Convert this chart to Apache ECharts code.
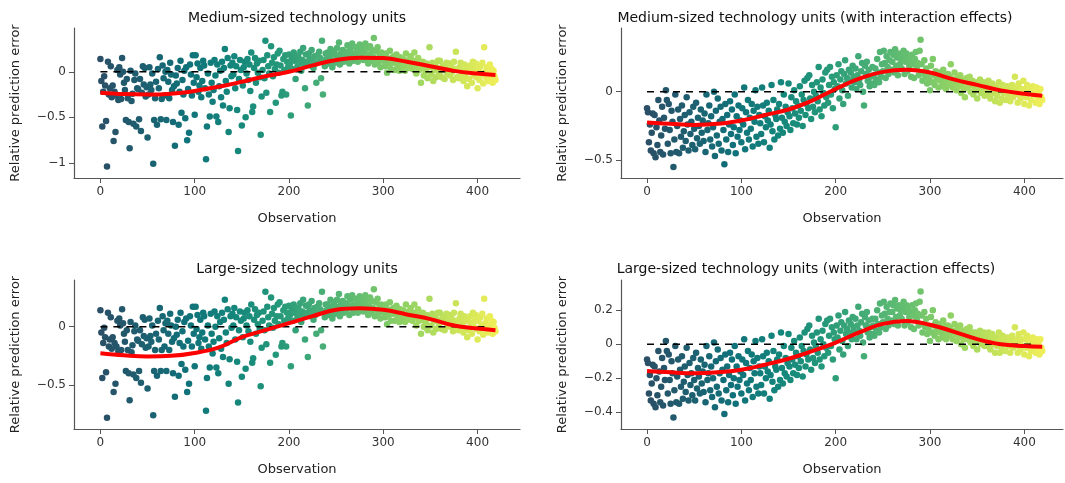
<!DOCTYPE html>
<html><head><meta charset="utf-8">
<script src="https://cdn.jsdelivr.net/npm/echarts@6/dist/echarts.min.js"></script>
<style>html,body{margin:0;padding:0;background:#fff}#c{width:1065px;height:483px}</style>
</head><body><div id="c"></div>
<script>
const titles = ["Medium-sized technology units","Medium-sized technology units (with interaction effects)","Large-sized technology units","Large-sized technology units (with interaction effects)"];
const xTicks = [0,100,200,300,400];
const yTicks1 = [0,-0.5,-1];
const yTicks2 = [0,-0.5];
const yTicks3 = [0,-0.5];
const yTicks4 = [0.2,0,-0.2,-0.4];
const zeroSpan = [0,410];
const trendObs = [0,25,50,75,100,125,150,175,200,225,250,275,300,325,350,375,400,419];
const trend1 = [-0.23,-0.245,-0.25,-0.24,-0.21,-0.165,-0.11,-0.05,0.0,0.07,0.13,0.155,0.15,0.11,0.06,0.01,-0.02,-0.035];
const trend2 = [-0.225,-0.235,-0.243,-0.235,-0.21,-0.17,-0.13,-0.065,0.02,0.095,0.145,0.16,0.14,0.09,0.05,0.01,-0.015,-0.03];
const trend3 = [-0.228,-0.245,-0.255,-0.25,-0.225,-0.18,-0.09,-0.03,0.03,0.09,0.145,0.158,0.145,0.105,0.065,0.01,-0.015,-0.03];
const trend4 = [-0.157,-0.165,-0.17,-0.165,-0.15,-0.12,-0.085,-0.04,0.01,0.07,0.12,0.137,0.115,0.075,0.03,0.0,-0.01,-0.014];

const mediumErr = [
0.14,-0.10,-0.60,-0.22,-0.05,-0.15,-0.54,-1.04,0.11,-0.25,
-0.18,0.06,-0.28,-0.15,-0.76,-0.22,-0.66,-0.26,0.02,-0.31,
0.05,-0.03,-0.30,0.15,0.00,-0.12,-0.20,-0.53,-0.08,-0.29,
-0.55,-0.84,0.01,-0.32,-0.24,-0.57,-0.09,-0.02,-0.60,-0.18,
-0.19,-0.52,-0.08,-0.65,-0.23,0.06,-0.14,0.04,-0.27,-0.17,
-0.72,-0.25,0.05,-0.14,-0.20,-0.02,-1.01,-0.53,-0.29,-0.11,
-0.58,0.03,-0.18,0.16,-0.52,-0.30,0.07,-0.07,-0.26,0.00,
-0.53,0.02,-0.11,-0.29,0.10,-0.03,-0.20,-0.55,-0.16,-0.81,
-0.04,-0.13,0.04,-0.58,-0.22,0.12,-0.45,-0.09,-0.25,0.01,
-0.51,0.05,-0.75,-0.19,-0.67,0.08,-0.03,-0.26,0.18,-0.12,
-0.47,0.18,-0.06,0.09,-0.22,-0.15,0.04,-0.28,-0.10,0.12,
0.07,-0.18,-0.96,-0.60,-0.02,-0.25,-0.49,0.10,-0.12,-0.33,
-0.20,0.13,-0.04,-0.49,0.08,-0.55,-0.16,0.01,-0.28,0.11,
-0.37,0.04,0.25,-0.10,-0.22,0.15,-0.66,-0.40,0.07,-0.05,
0.10,-0.03,0.17,-0.18,0.06,-0.42,-0.87,-0.08,0.13,0.02,
-0.59,-0.15,0.05,0.11,-0.50,-0.02,0.14,-0.09,0.08,-0.21,
0.21,-0.44,-0.38,0.04,0.15,-0.12,0.09,-0.01,0.12,-0.06,
-0.69,-0.27,0.02,0.13,-0.07,0.34,-0.23,0.18,0.06,-0.02,
-0.44,0.28,0.10,-0.05,0.16,0.03,-0.34,0.08,0.20,-0.01,
0.23,0.07,-0.26,-0.22,0.14,0.02,0.18,-0.25,0.11,0.05,
0.19,0.09,-0.48,0.15,0.03,0.21,0.12,-0.08,0.17,0.06,
0.16,0.10,0.22,0.01,0.13,0.26,0.08,-0.18,0.19,0.11,
-0.37,0.20,0.14,0.07,0.24,0.12,0.04,0.17,0.09,-0.12,
0.18,0.11,0.22,0.15,-0.07,0.34,-0.25,0.13,0.06,0.20,
0.14,0.21,0.09,0.17,0.25,0.12,0.05,0.19,0.23,0.10,
0.18,0.26,0.13,0.32,0.08,0.20,0.15,0.24,0.11,0.17,
0.22,0.14,0.29,0.19,0.09,0.25,0.16,0.31,0.12,0.20,
0.17,0.27,0.21,0.11,0.24,0.30,0.15,0.19,0.26,0.13,
0.22,0.31,0.15,0.26,0.09,0.19,0.28,0.12,0.24,0.17,
0.37,0.08,0.23,0.14,0.27,0.11,0.19,0.05,0.21,0.16,
0.12,0.18,0.06,0.20,-0.01,0.14,0.09,0.23,0.03,0.15,
0.10,0.17,0.02,0.13,0.19,0.07,0.11,0.01,0.16,0.08,
0.05,0.14,0.09,0.01,0.20,0.11,0.04,0.13,0.07,0.17,
0.09,0.03,0.12,0.21,0.06,-0.02,0.10,0.15,0.02,0.08,
-0.12,0.04,0.11,-0.04,0.07,0.00,0.09,-0.07,0.05,0.27,
0.06,-0.03,0.10,-0.10,0.02,0.08,-0.06,0.04,0.12,-0.01,
0.12,0.01,-0.06,0.07,0.03,-0.08,0.05,0.10,-0.02,0.04,
0.09,-0.04,0.06,0.00,-0.09,0.11,0.03,0.22,-0.06,0.02,
-0.07,0.05,0.10,-0.03,0.01,-0.10,0.08,-0.05,0.02,-0.16,
0.04,-0.08,0.07,0.00,-0.12,0.11,-0.04,0.03,0.09,-0.06,
-0.18,0.02,-0.09,0.06,-0.03,0.10,-0.13,0.27,0.00,-0.06,
0.05,-0.10,-0.02,0.08,-0.07,0.03,-0.12,0.01,-0.05,-0.09
];

const mediumIntErr = [
-0.12,-0.15,-0.37,-0.24,-0.43,-0.30,-0.16,-0.45,-0.17,-0.48,
-0.26,-0.39,-0.06,-0.21,-0.44,-0.32,-0.11,-0.46,-0.19,-0.27,
0.01,-0.06,-0.38,-0.09,-0.28,-0.45,-0.14,-0.22,-0.55,-0.35,
-0.02,-0.44,-0.25,-0.13,-0.45,-0.20,-0.33,-0.10,-0.41,-0.29,
-0.17,-0.36,-0.04,-0.24,-0.43,-0.15,-0.31,-0.22,-0.39,-0.11,
-0.27,-0.42,-0.08,-0.34,-0.19,-0.25,-0.38,-0.13,-0.30,-0.21,
-0.36,-0.16,-0.44,-0.02,-0.28,-0.23,-0.10,-0.35,-0.18,-0.40,
-0.26,0.00,-0.47,-0.14,-0.32,-0.05,-0.38,-0.22,-0.11,-0.43,
-0.20,-0.28,-0.53,-0.09,-0.35,-0.17,-0.44,-0.24,-0.07,-0.31,
-0.13,-0.39,-0.26,-0.02,-0.45,-0.18,-0.33,-0.10,-0.28,-0.21,
-0.37,-0.12,-0.24,0.03,-0.42,-0.15,-0.30,-0.06,-0.35,-0.19,
-0.27,-0.09,-0.40,-0.14,-0.22,0.01,-0.33,-0.11,-0.38,-0.17,
-0.23,-0.31,0.03,-0.10,-0.37,-0.18,-0.26,-0.08,-0.21,-0.14,
-0.41,-0.24,0.05,-0.29,-0.06,-0.35,-0.17,-0.20,-0.13,-0.32,
-0.09,-0.27,0.07,-0.19,-0.30,-0.02,-0.22,-0.11,-0.25,-0.15,
0.06,-0.18,-0.28,-0.04,-0.12,-0.23,0.01,-0.16,-0.07,-0.24,
-0.10,-0.19,0.04,-0.14,-0.02,-0.25,-0.06,0.08,-0.17,-0.09,
0.10,-0.12,0.12,-0.05,-0.20,0.05,-0.11,0.00,-0.15,-0.03,
0.07,-0.07,0.18,-0.13,0.03,-0.18,0.09,-0.01,-0.10,0.14,
-0.04,0.16,-0.08,0.05,0.18,-0.02,0.11,-0.12,0.07,0.02,
-0.26,0.12,0.04,0.20,-0.05,0.09,0.15,0.01,-0.09,0.13,
0.23,0.06,0.10,-0.03,0.16,0.08,0.14,0.03,0.19,0.11,
0.07,0.17,0.02,0.12,0.26,0.09,0.05,0.15,0.21,0.00,
-0.10,0.19,0.13,0.22,0.08,0.16,0.04,0.11,0.06,0.18,
0.12,0.05,0.17,0.09,0.24,0.14,0.07,0.29,0.11,0.20,
0.15,0.30,0.21,0.10,0.26,0.18,0.13,0.23,0.29,0.16,
0.22,0.27,0.14,0.31,0.19,0.25,0.12,0.28,0.20,0.24,
0.17,0.26,0.30,0.13,0.22,0.28,0.15,0.25,0.19,0.23,
0.11,0.27,0.20,0.10,0.24,0.29,0.18,0.21,0.12,0.30,
0.38,0.20,0.08,0.14,0.23,0.11,0.17,0.06,0.13,0.09,
0.01,0.19,0.07,0.24,0.12,0.05,0.15,0.09,0.11,0.03,
0.14,0.08,0.10,0.04,0.16,0.06,0.12,0.02,0.09,0.13,
0.05,0.11,0.20,0.07,0.03,0.09,0.14,0.06,0.01,0.10,
0.08,0.04,0.12,-0.01,0.06,0.09,0.02,-0.04,0.07,0.10,
0.03,0.06,0.11,0.00,0.05,0.08,-0.02,0.04,0.07,0.01,
-0.05,0.06,0.02,0.09,-0.01,0.04,0.00,0.07,-0.03,0.02,
0.05,-0.02,0.08,0.01,-0.05,0.03,0.06,-0.01,0.02,-0.07,
0.04,-0.03,0.00,0.07,-0.08,0.02,-0.05,0.05,-0.01,0.03,
-0.06,0.01,0.04,-0.03,0.02,-0.07,0.00,0.05,-0.04,0.01,
0.11,-0.02,0.03,-0.08,0.06,0.00,-0.05,0.02,-0.03,0.08,
-0.09,0.02,-0.04,0.05,-0.01,-0.10,0.03,-0.06,0.00,0.04,
-0.02,0.01,-0.08,0.03,-0.05,0.00,-0.09,0.02,-0.04,-0.06
];

const largeErr = [
0.14,-0.05,-0.44,-0.14,-0.01,-0.09,-0.39,-0.78,0.12,-0.17,
-0.11,0.08,-0.19,-0.09,-0.56,-0.14,-0.49,-0.17,0.05,-0.21,
0.07,0.01,-0.20,0.15,0.03,-0.06,-0.13,-0.38,-0.03,-0.20,
-0.40,-0.63,0.04,-0.22,-0.16,-0.41,-0.04,0.01,-0.44,-0.11,
-0.12,-0.38,-0.03,-0.48,-0.15,0.08,-0.08,0.06,-0.18,-0.10,
-0.53,-0.17,0.07,-0.08,-0.13,0.01,-0.76,-0.38,-0.20,-0.06,
-0.42,0.05,-0.11,0.16,-0.38,-0.20,0.09,-0.03,-0.17,0.03,
-0.38,0.05,-0.06,-0.20,0.11,0.01,-0.13,-0.40,-0.10,-0.60,
0.00,-0.07,0.06,-0.42,-0.14,0.12,-0.32,-0.04,-0.17,0.04,
-0.37,0.07,-0.56,-0.12,-0.49,0.09,0.01,-0.17,0.17,-0.06,
-0.34,0.17,-0.02,0.10,-0.14,-0.09,0.06,-0.19,-0.05,0.12,
0.09,-0.11,-0.72,-0.44,0.01,-0.17,-0.35,0.11,-0.06,-0.23,
-0.13,0.13,0.00,-0.35,0.09,-0.40,-0.10,0.04,-0.19,0.12,
-0.26,0.06,0.23,-0.05,-0.14,0.15,-0.49,-0.28,0.09,-0.01,
0.11,0.01,0.16,-0.11,0.08,-0.30,-0.65,-0.03,0.13,0.05,
-0.43,-0.09,0.07,0.12,-0.36,0.01,0.14,-0.04,0.09,-0.13,
0.19,-0.31,-0.27,0.06,0.15,-0.06,0.10,0.02,0.12,-0.02,
-0.51,-0.18,0.05,0.13,-0.03,0.30,-0.15,0.17,0.08,0.01,
-0.31,0.25,0.11,-0.01,0.16,0.05,-0.24,0.09,0.19,0.02,
0.21,0.09,-0.17,-0.14,0.14,0.05,0.17,-0.17,0.12,0.07,
0.18,0.10,-0.34,0.15,0.05,0.19,0.12,-0.03,0.16,0.08,
0.16,0.11,0.20,0.04,0.13,0.23,0.09,-0.11,0.18,0.12,
-0.26,0.19,0.14,0.09,0.22,0.12,0.06,0.16,0.10,-0.06,
0.17,0.12,0.20,0.15,-0.03,0.30,-0.17,0.13,0.08,0.19,
0.14,0.19,0.10,0.16,0.23,0.12,0.07,0.18,0.21,0.11,
0.17,0.23,0.13,0.28,0.09,0.19,0.15,0.22,0.12,0.16,
0.20,0.14,0.26,0.18,0.10,0.23,0.16,0.27,0.12,0.19,
0.16,0.24,0.19,0.12,0.22,0.26,0.15,0.18,0.23,0.13,
0.20,0.27,0.15,0.23,0.10,0.18,0.25,0.12,0.22,0.16,
0.32,0.09,0.21,0.14,0.24,0.12,0.18,0.07,0.19,0.16,
0.12,0.17,0.08,0.19,0.02,0.14,0.10,0.21,0.05,0.15,
0.11,0.16,0.05,0.13,0.18,0.09,0.12,0.04,0.15,0.09,
0.07,0.14,0.10,0.04,0.19,0.12,0.06,0.13,0.09,0.16,
0.10,0.05,0.12,0.19,0.08,0.01,0.11,0.15,0.05,0.09,
-0.06,0.06,0.12,0.00,0.09,0.03,0.10,-0.03,0.07,0.24,
0.08,0.01,0.11,-0.05,0.05,0.09,-0.02,0.06,0.12,0.02,
0.12,0.04,-0.02,0.09,0.05,-0.03,0.07,0.11,0.01,0.06,
0.10,0.00,0.08,0.03,-0.04,0.12,0.05,0.20,-0.02,0.05,
-0.03,0.07,0.11,0.01,0.04,-0.05,0.09,-0.01,0.05,-0.09,
0.06,-0.03,0.09,0.03,-0.06,0.12,0.00,0.05,0.10,-0.02,
-0.11,0.05,-0.04,0.08,0.01,0.11,-0.07,0.24,0.03,-0.02,
0.07,-0.05,0.01,0.09,-0.03,0.05,-0.06,0.04,-0.01,-0.04
];

const largeIntErr = [
-0.09,-0.11,-0.29,-0.18,-0.33,-0.23,-0.12,-0.35,-0.13,-0.37,
-0.20,-0.30,-0.04,-0.16,-0.34,-0.25,-0.08,-0.36,-0.14,-0.21,
0.02,-0.04,-0.29,-0.06,-0.21,-0.35,-0.10,-0.17,-0.43,-0.27,
-0.01,-0.34,-0.19,-0.09,-0.35,-0.15,-0.25,-0.07,-0.32,-0.22,
-0.13,-0.28,-0.02,-0.18,-0.33,-0.11,-0.24,-0.17,-0.30,-0.08,
-0.21,-0.33,-0.05,-0.26,-0.14,-0.19,-0.29,-0.09,-0.23,-0.16,
-0.28,-0.12,-0.34,-0.01,-0.21,-0.17,-0.07,-0.27,-0.13,-0.31,
-0.20,0.01,-0.37,-0.10,-0.25,-0.03,-0.29,-0.17,-0.08,-0.33,
-0.15,-0.21,-0.41,-0.06,-0.27,-0.13,-0.34,-0.18,-0.05,-0.24,
-0.09,-0.30,-0.20,-0.01,-0.35,-0.13,-0.25,-0.07,-0.21,-0.16,
-0.29,-0.09,-0.18,0.03,-0.33,-0.11,-0.23,-0.04,-0.27,-0.14,
-0.21,-0.06,-0.31,-0.10,-0.17,0.02,-0.25,-0.08,-0.29,-0.13,
-0.17,-0.24,0.03,-0.07,-0.29,-0.13,-0.20,-0.05,-0.16,-0.10,
-0.32,-0.18,0.05,-0.22,-0.04,-0.27,-0.13,-0.15,-0.09,-0.25,
-0.06,-0.21,0.07,-0.14,-0.23,-0.01,-0.17,-0.08,-0.19,-0.11,
0.06,-0.13,-0.21,-0.02,-0.09,-0.17,0.02,-0.12,-0.05,-0.18,
-0.07,-0.14,0.04,-0.10,-0.01,-0.19,-0.04,0.07,-0.13,-0.06,
0.09,-0.09,0.11,-0.03,-0.15,0.05,-0.08,0.01,-0.11,-0.01,
0.07,-0.05,0.15,-0.09,0.03,-0.13,0.08,0.00,-0.07,0.12,
-0.02,0.14,-0.05,0.05,0.15,-0.01,0.10,-0.09,0.07,0.03,
-0.20,0.11,0.04,0.17,-0.03,0.08,0.13,0.02,-0.06,0.11,
0.19,0.06,0.09,-0.01,0.14,0.07,0.12,0.03,0.16,0.10,
0.07,0.15,0.03,0.11,0.22,0.08,0.05,0.13,0.18,0.01,
-0.07,0.16,0.11,0.19,0.07,0.14,0.04,0.10,0.06,0.15,
0.11,0.05,0.15,0.08,0.20,0.12,0.07,0.24,0.10,0.17,
0.13,0.25,0.18,0.09,0.22,0.15,0.11,0.19,0.24,0.14,
0.19,0.23,0.12,0.26,0.16,0.21,0.11,0.23,0.17,0.20,
0.15,0.22,0.25,0.11,0.19,0.23,0.13,0.21,0.16,0.19,
0.10,0.23,0.17,0.09,0.20,0.24,0.15,0.18,0.11,0.25,
0.31,0.17,0.07,0.12,0.19,0.10,0.15,0.06,0.11,0.08,
0.02,0.16,0.07,0.20,0.11,0.05,0.13,0.08,0.10,0.03,
0.12,0.07,0.09,0.04,0.14,0.06,0.11,0.03,0.08,0.11,
0.05,0.10,0.17,0.07,0.03,0.08,0.12,0.06,0.02,0.09,
0.07,0.04,0.11,0.00,0.06,0.08,0.03,-0.02,0.07,0.09,
0.03,0.06,0.10,0.01,0.05,0.07,-0.01,0.04,0.07,0.02,
-0.03,0.06,0.03,0.08,0.00,0.04,0.01,0.07,-0.01,0.03,
0.05,-0.01,0.07,0.02,-0.03,0.03,0.06,0.00,0.03,-0.05,
0.04,-0.01,0.01,0.07,-0.05,0.03,-0.03,0.05,0.00,0.03,
-0.04,0.02,0.04,-0.01,0.03,-0.05,0.01,0.05,-0.02,0.02,
0.10,-0.01,0.03,-0.05,0.06,0.01,-0.03,0.03,-0.01,0.07,
-0.06,0.03,-0.02,0.05,0.00,-0.07,0.03,-0.04,0.01,0.04,
-0.01,0.02,-0.05,0.03,-0.03,0.01,-0.06,0.03,-0.02,-0.04
];

const panels = [
  {err: mediumErr, trend: trend1, ticks: yTicks1, grid:{left:74, top:28, width:446, height:150}, x:[-28,445], y:[-1.165,0.48], title:[297,18]},
  {err: mediumIntErr, trend: trend2, ticks: yTicks2, grid:{left:621, top:28, width:442, height:150}, x:[-27.6,441], y:[-0.631,0.466], title:[815,18]},
  {err: largeErr, trend: trend3, ticks: yTicks3, grid:{left:74, top:280, width:446, height:149}, x:[-28,445], y:[-0.877,0.40], title:[297,269]},
  {err: largeIntErr, trend: trend4, ticks: yTicks4, grid:{left:621, top:280, width:442, height:149}, x:[-27.6,441], y:[-0.498,0.378], title:[806,269]}
];

const FONT = 'DejaVu Sans';
const fmt = v => { const s = String(+v.toFixed(2)); return s.replace('-', '\u2212'); };
const grids = [], xAxes = [], yAxes = [], series = [], graphics = [];
panels.forEach((p, k) => {
  grids.push(p.grid);
  xAxes.push({
    type:'value', gridIndex:k, min:p.x[0], max:p.x[1],
    name:'Observation', nameLocation:'middle', nameGap:34,
    nameTextStyle:{fontFamily:FONT, fontSize:13, color:'#222'},
    axisLine:{show:true, onZero:false, lineStyle:{color:'#555', width:1.2}},
    axisTick:{show:true, length:5, lineStyle:{color:'#555'}, customValues:xTicks},
    axisLabel:{fontFamily:FONT, fontSize:12, color:'#333', margin:8, customValues:xTicks, formatter:fmt},
    splitLine:{show:false}
  });
  yAxes.push({
    type:'value', gridIndex:k, min:p.y[0], max:p.y[1],
    name:'Relative prediction error', nameLocation:'middle', nameRotate:90, nameGap:52,
    nameTextStyle:{fontFamily:FONT, fontSize:13, color:'#222'},
    axisLine:{show:true, onZero:false, lineStyle:{color:'#555', width:1.2}},
    axisTick:{show:true, length:5, lineStyle:{color:'#555'}, customValues:p.ticks},
    axisLabel:{fontFamily:FONT, fontSize:12, color:'#333', margin:8, customValues:p.ticks, formatter:fmt},
    splitLine:{show:false}
  });
  series.push({
    type:'scatter', xAxisIndex:k, yAxisIndex:k, symbolSize:6.5,
    data: p.err.map((v, i) => [i, v]), itemStyle:{opacity:1}, z:2, silent:true
  });
  series.push({
    type:'line', xAxisIndex:k, yAxisIndex:k, symbol:'none', silent:true, z:3,
    data: zeroSpan.map(x => [x, 0]),
    lineStyle:{color:'#000', width:1.5, type:[7,6]}
  });
  series.push({
    type:'line', xAxisIndex:k, yAxisIndex:k, symbol:'none', silent:true, z:4, smooth:0.4,
    data: trendObs.map((x, i) => [x, p.trend[i]]),
    lineStyle:{color:'#ff0000', width:4}
  });
  graphics.push({type:'text', x:p.title[0], y:p.title[1], style:{text:titles[k], font:'14px "DejaVu Sans"', fill:'#111', align:'center', verticalAlign:'middle'}});
});

const chart = echarts.init(document.getElementById('c'), null, {renderer:'canvas'});
chart.setOption({
  animation:false,
  backgroundColor:'#fff',
  grid: grids, xAxis: xAxes, yAxis: yAxes, series: series, graphic: graphics,
  visualMap:{
    type:'continuous', show:false, dimension:0, min:0, max:419, seriesIndex:[0,3,6,9],
    inRange:{color:['#2a4f66','#1d5f70','#10727a','#14857b','#23977a','#47ad76','#67c06f','#93d363','#c6e35a','#eeee58']}
  }
});
</script>
</body></html>
